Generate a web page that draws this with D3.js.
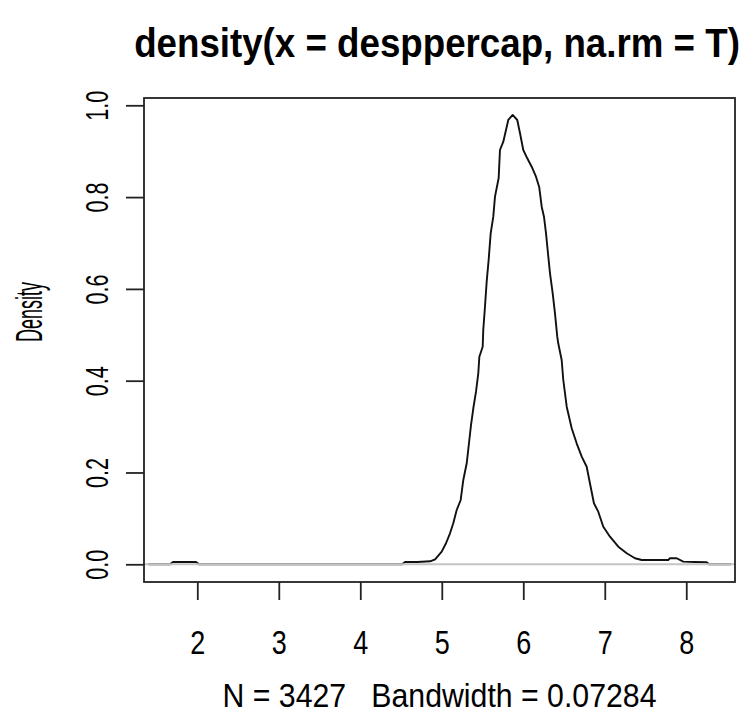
<!DOCTYPE html>
<html>
<head>
<meta charset="utf-8">
<script src="https://cdn.jsdelivr.net/npm/d3@7"></script>
<style>
  body { margin: 0; background: #fff; }
  svg { display: block; font-family: "Liberation Sans", Arial, sans-serif; }
</style>
</head>
<body>
<svg id="chart" width="756" height="724"></svg>
<script>
// density curve (x value, estimated density)
var densX = [1.40, 1.665, 1.702, 1.75, 1.85, 1.95, 1.984, 2.021, 3.0, 4.0, 4.513, 4.55, 4.70, 4.857, 4.918, 4.999, 5.052, 5.101, 5.141, 5.183, 5.232, 5.264, 5.306, 5.338, 5.359, 5.387, 5.420, 5.448, 5.461, 5.502, 5.509, 5.530, 5.551, 5.575, 5.600, 5.632, 5.653, 5.698, 5.714, 5.755, 5.816, 5.870, 5.926, 5.960, 6.000, 6.049, 6.103, 6.156, 6.196, 6.226, 6.254, 6.279, 6.303, 6.328, 6.361, 6.389, 6.417, 6.429, 6.471, 6.491, 6.533, 6.594, 6.655, 6.717, 6.778, 6.818, 6.867, 6.920, 6.982, 7.064, 7.166, 7.269, 7.371, 7.453, 7.60, 7.779, 7.800, 7.882, 7.963, 8.10, 8.250, 8.279, 8.55];
var densY = [0, 0, 0.005, 0.005, 0.005, 0.005, 0.005, 0, 0, 0, 0, 0.005, 0.005, 0.0065, 0.0109, 0.0275, 0.0458, 0.0675, 0.0893, 0.1183, 0.1401, 0.1837, 0.2200, 0.2708, 0.3035, 0.3399, 0.3760, 0.4161, 0.4523, 0.4741, 0.5105, 0.5612, 0.6157, 0.6630, 0.7211, 0.7573, 0.8009, 0.8416, 0.9026, 0.9207, 0.9680, 0.9789, 0.9680, 0.9390, 0.9026, 0.8845, 0.8662, 0.8444, 0.8214, 0.7791, 0.7573, 0.7211, 0.6776, 0.6340, 0.5904, 0.5468, 0.4959, 0.4815, 0.4451, 0.4015, 0.3434, 0.2963, 0.2636, 0.2344, 0.2126, 0.1765, 0.1329, 0.1146, 0.0819, 0.0601, 0.0383, 0.0240, 0.0131, 0.0094, 0.0094, 0.0094, 0.0131, 0.0131, 0.0057, 0.005, 0.0044, 0, 0];

var xTicks = [2, 3, 4, 5, 6, 7, 8];
var yTicks = [0, 0.2, 0.4, 0.6, 0.8, 1.0];

var titleText = "density(x = desppercap, na.rm = T)";
var subText = "N = 3427   Bandwidth = 0.07284";
var yLabel = "Density";

// plot box (not "top": that name is taken by window.top)
var boxL = 144, boxR = 735, boxT = 98, boxB = 582;

var svg = d3.select("#chart");

var x = d3.scaleLinear().domain([1.346, 8.598]).range([boxL, boxR]);
var y = d3.scaleLinear().domain([-0.0386, 1.0159]).range([boxB, boxT]);

// curve
var line = d3.line()
    .x(function(d, i) { return x(densX[i]); })
    .y(function(d, i) { return y(densY[i]); });

svg.append("path")
    .datum(densX)
    .attr("d", line)
    .attr("fill", "none")
    .attr("stroke", "#111")
    .attr("stroke-width", 1.9)
    .attr("stroke-linejoin", "round");

// zero line goes on top, like abline(h = 0)
svg.append("line")
    .attr("x1", boxL).attr("x2", boxR)
    .attr("y1", y(0)).attr("y2", y(0))
    .attr("stroke", "#c4c4c4")
    .attr("stroke-width", 2);

// box
svg.append("rect")
    .attr("x", boxL).attr("y", boxT)
    .attr("width", boxR - boxL).attr("height", boxB - boxT)
    .attr("fill", "none")
    .attr("stroke", "#222")
    .attr("stroke-width", 1.8);

// x axis
var xAxis = svg.append("g")
    .attr("transform", "translate(0," + boxB + ")")
    .call(d3.axisBottom(x).tickValues(xTicks).tickSize(18).tickFormat(d3.format("d")));
xAxis.select(".domain").remove();
xAxis.selectAll("line").attr("stroke", "#222").attr("stroke-width", 1.8);
xAxis.selectAll("text")
    .attr("y", 72).attr("dy", null)
    .attr("fill", "#000")
    .attr("font-size", 34)
    .attr("textLength", 15)
    .attr("lengthAdjust", "spacingAndGlyphs");

// y axis
var yAxis = svg.append("g")
    .attr("transform", "translate(" + boxL + ",0)")
    .call(d3.axisLeft(y).tickValues(yTicks).tickSize(18).tickFormat(d3.format(".1f")));
yAxis.select(".domain").remove();
yAxis.selectAll("line").attr("stroke", "#222").attr("stroke-width", 1.8);
yAxis.selectAll("text")
    .attr("x", 0).attr("y", 0).attr("dy", null)
    .attr("text-anchor", "middle")
    .attr("transform", "translate(-36,0) rotate(-90)")
    .attr("fill", "#000")
    .attr("font-size", 32)
    .attr("textLength", 30)
    .attr("lengthAdjust", "spacingAndGlyphs");

// title: squeeze horizontally with a transform so its box stays on the page
var title = svg.append("text")
    .attr("text-anchor", "middle")
    .attr("font-weight", "bold")
    .attr("font-size", 40)
    .text(titleText);
var tw = title.node().getComputedTextLength();
title.attr("transform", "translate(437,57) scale(" + (606 / tw) + ",1)");

// subtitle under x axis
svg.append("text")
    .attr("x", (boxL + boxR) / 2).attr("y", 707)
    .attr("text-anchor", "middle")
    .attr("font-size", 33)
    .attr("textLength", 434)
    .attr("lengthAdjust", "spacingAndGlyphs")
    .style("white-space", "pre")
    .text(subText);

// y label
svg.append("text")
    .attr("transform", "translate(42,312) rotate(-90)")
    .attr("text-anchor", "middle")
    .attr("font-size", 36)
    .attr("textLength", 60)
    .attr("lengthAdjust", "spacingAndGlyphs")
    .text(yLabel);
</script>
</body>
</html>
